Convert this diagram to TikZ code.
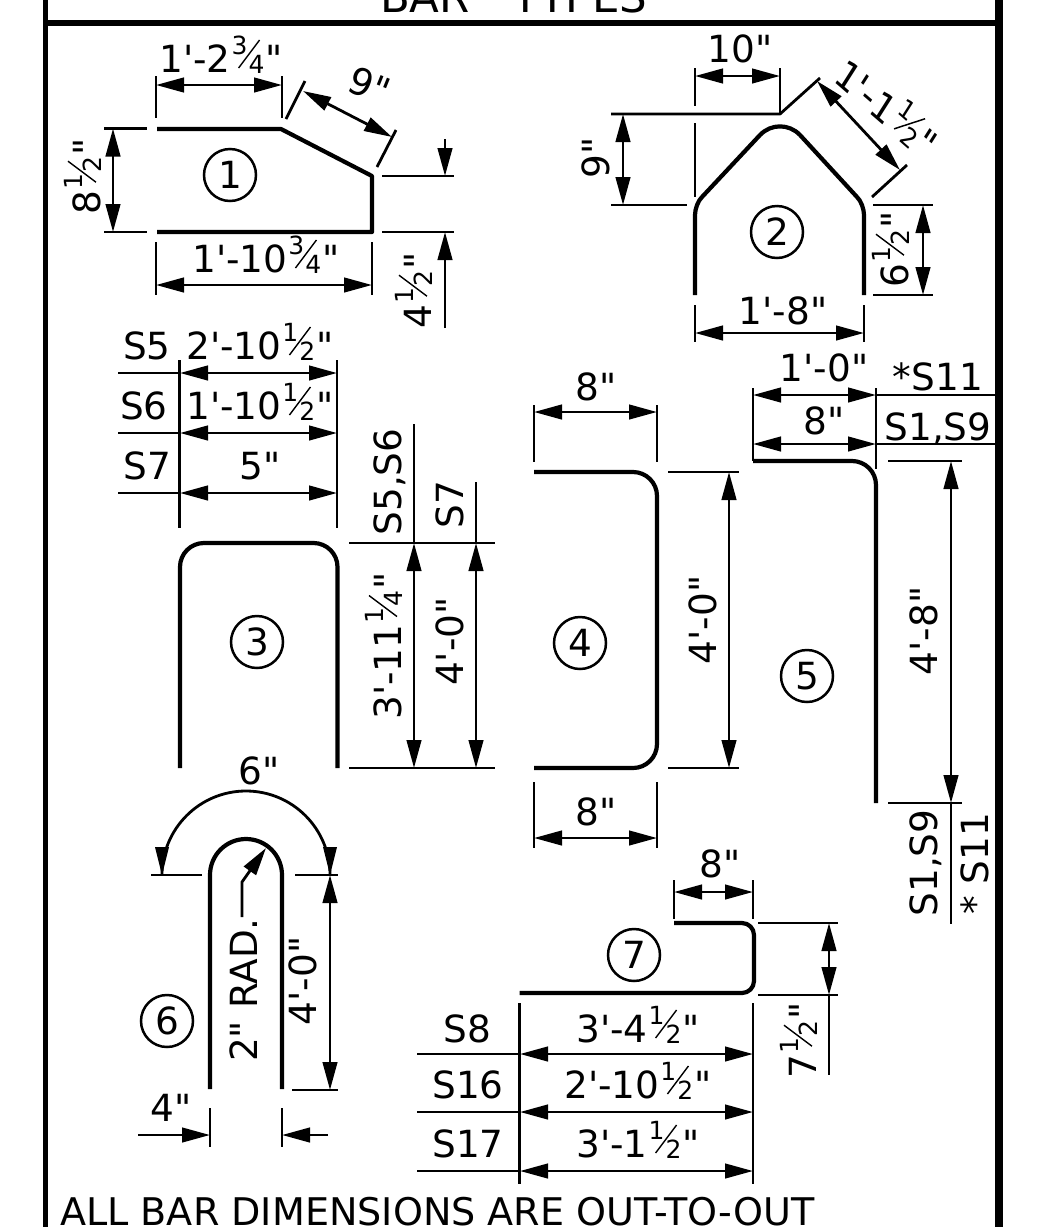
\documentclass[tikz,border=0pt]{standalone}
\usepackage{fontspec}
\usetikzlibrary{arrows.meta}
\newfontfamily\dvf{DejaVu Sans}
\tikzset{
  x=1pt,y=-1pt,
  border/.style={line cap=butt},
  barline/.style={line width=4.2pt,line join=round},
  thinl/.style={line width=2.8pt},
  tipa/.style={thinl,{Triangle[length=28pt,width=14.5pt]}-{Triangle[length=28pt,width=14.5pt]}},
  tipe/.style={thinl,-{Triangle[length=28pt,width=14.5pt]}},
  lab/.style={font=\dvf\fontsize{37.4}{40}\selectfont,inner sep=0pt,anchor=base,text=black},
  ring/.style={font=\dvf\fontsize{37.4}{40}\selectfont,draw,circle,line width=2.5pt,minimum size=52pt,inner sep=0pt},
}
\newcommand\TT[5]{\node[lab,rotate=#4] (#1) at (#2,#3) {#5};}
\newcommand\fr[2]{\hbox to 35pt{%
  \rlap{\kern1pt\raisebox{18pt}{\fontsize{25}{25}\selectfont #1}}%
  \rlap{\kern18pt\raisebox{-1.7pt}{\fontsize{25}{25}\selectfont #2}}%
  \rlap{\kern3pt\tikz[baseline=0pt,x=1pt,y=1pt]{\useasboundingbox (0,0) rectangle (0,0);\draw[line width=1.4pt] (5,4) -- (26,32);}}%
  \hfil}}
\begin{document}
\begin{tikzpicture}
\useasboundingbox (0,0) rectangle (1045,1227);
% frame
\draw[border,line width=5pt] (45.5,0) -- (45.5,1227);
\draw[border,line width=8pt] (999,0) -- (999,1227);
\draw[border,line width=6pt] (43,23) -- (1003,23);
\node[lab,font=\dvf\fontsize{43.5}{46}\selectfont] (title1) at (425,12) {BAR};
\node[lab,font=\dvf\fontsize{43.5}{46}\selectfont] (title2) at (580,12) {TYPES};
\node[lab,font=\dvf\fontsize{38.1}{42}\selectfont] (note) at (437.5,1225) {ALL BAR DIMENSIONS ARE OUT-TO-OUT};
% ---- bar 1
\draw[barline] (157,129) -- (281,129) -- (372,176) -- (372,232) -- (157,232);
\node[ring] (r1) at (230,175) {1};
\draw[thinl] (156,76) -- (156,118) (282,76) -- (282,118);
\draw[tipa] (156,85) -- (282,85);
\TT{a1}{221}{72}{0}{1'-2\fr{3}{4}"}
\draw[thinl] (286,119) -- (305,81) (377,167) -- (396,130);
\draw[tipa] (303,91) -- (392,137);
\node[lab,anchor=center,rotate=-22] (a2) at (370,86) {9"};
\draw[thinl] (104,128.5) -- (147,128.5) (104,232) -- (147,232);
\draw[tipa] (113,128.5) -- (113,232);
\TT{a3}{100}{176}{90}{8\fr{1}{2}"}
\draw[thinl] (382,176) -- (454,176) (382,232) -- (454,232);
\draw[tipe] (445,139) -- (445,176);
\draw[tipe] (445,328) -- (445,232);
\TT{a4}{431}{290}{90}{4\fr{1}{2}"}
\draw[thinl] (156,242) -- (156,295) (372,242) -- (372,295);
\draw[tipa] (156,285) -- (372,285);
\TT{a5}{266}{272}{0}{1'-10\fr{3}{4}"}
% ---- bar 2
\draw[barline] (695,295) -- (695,215) .. controls (695,209) and (698,200.7) .. (702,197)
  -- (760,135) .. controls (771,123.5) and (789,123.5) .. (800,135)
  -- (857,197) .. controls (861,200.7) and (864,209) .. (864,215) -- (864,295);
\node[ring] (r2) at (777,232) {2};
\draw[thinl,line join=round] (611,114) -- (780,114) -- (820,78);
\draw[thinl] (780,68) -- (780,114) (695,68) -- (695,106) (695,123) -- (695,197);
\draw[tipa] (695,76) -- (780,76);
\TT{b1}{740}{62}{0}{10"}
\draw[thinl] (611,205) -- (687,205);
\draw[tipa] (623,114) -- (623,205);
\TT{b2}{609}{158}{90}{9"}
\draw[thinl] (872,197) -- (907,165);
\draw[tipa] (817,81) -- (900,170);
\node[lab,anchor=center,rotate=-41,xslant=-.15,transform shape] (b3) at (888,106) {1'-1\fr{1}{2}"};
\draw[thinl] (695,305) -- (695,342) (864,305) -- (864,342);
\draw[tipa] (695,333) -- (864,333);
\TT{b4}{783}{324}{0}{1'-8"}
\draw[thinl] (873,205) -- (933,205) (873,295) -- (933,295);
\draw[tipa] (923,205) -- (923,295);
\TT{b5}{908}{249}{90}{6\fr{1}{2}"}
% ---- bar 3
\draw[barline,rounded corners=24pt] (180,768) -- (180,543) -- (337.5,543) -- (337.5,768);
\node[ring] (r3) at (257,642) {3};
\draw[thinl] (179.5,360) -- (179.5,528) (337,360) -- (337,528);
\draw[thinl] (118,373) -- (180,373) (118,433) -- (180,433) (118,493) -- (180,493);
\draw[tipa] (180,373) -- (337,373);
\draw[tipa] (180,433) -- (337,433);
\draw[tipa] (180,493) -- (337,493);
\TT{c1}{147}{359}{0}{S5}
\TT{c2}{260}{359}{0}{2'-10\fr{1}{2}"}
\TT{c3}{144}{419}{0}{S6}
\TT{c4}{260}{419}{0}{1'-10\fr{1}{2}"}
\TT{c5}{147.5}{479}{0}{S7}
\TT{c6}{260}{479}{0}{5"}
\draw[thinl] (349,543) -- (495,543) (349,768) -- (495,768);
\draw[thinl] (414,424) -- (414,543) (476,482) -- (476,543);
\draw[tipa] (414,543) -- (414,768);
\draw[tipa] (476,543) -- (476,768);
\TT{c7}{401}{482}{90}{S5,S6}
\TT{c8}{463}{504.5}{90}{S7}
\TT{c9}{401}{646}{90}{3'-11\fr{1}{4}"}
\TT{c10}{463}{641.5}{90}{4'-0"}
% ---- bar 4
\draw[barline,rounded corners=24pt] (534,472) -- (657,472) -- (657,768) -- (534,768);
\node[ring] (r4) at (580,643) {4};
\draw[thinl] (534,405) -- (534,462) (657,405) -- (657,462);
\draw[tipa] (534,412) -- (657,412);
\TT{d1}{596}{400}{0}{8"}
\draw[thinl] (534,782) -- (534,848) (657,782) -- (657,848);
\draw[tipa] (534,838) -- (657,838);
\TT{d2}{596}{825}{0}{8"}
\draw[thinl] (668,472) -- (739,472) (668,768) -- (739,768);
\draw[tipa] (729,472) -- (729,768);
\TT{d3}{716}{620}{90}{4'-0"}
% ---- bar 5
\draw[barline,rounded corners=24pt] (753,461) -- (876,461) -- (876,803);
\node[ring] (r5) at (807,676) {5};
\draw[thinl] (753,388) -- (753,461) (876,388) -- (876,469);
\draw[thinl] (876,395) -- (997,395) (876,444) -- (997,444);
\draw[tipa] (753,395) -- (876,395);
\draw[tipa] (753,444) -- (876,444);
\TT{e1}{824}{381}{0}{1'-0"}
\TT{e2}{938}{390.5}{0}{*S11}
\TT{e3}{824}{434}{0}{8"}
\TT{e4}{938}{440}{0}{S1,S9}
\draw[thinl] (888,461) -- (962,461) (888,803) -- (962,803);
\draw[tipa] (951,461) -- (951,803);
\draw[thinl] (951,803) -- (951,924);
\TT{e5}{937}{631}{90}{4'-8"}
\TT{e6}{937}{863}{90}{S1,S9}
\TT{e7}{988}{864}{90}{* S11}
% ---- bar 6
\draw[barline] (210,1089) -- (210,875) arc[start angle=180,end angle=360,radius=36] -- (282,1089);
\node[ring] (r6) at (167,1021) {6};
\draw[thinl] (151,875) -- (202,875) (295,875) -- (338,875) (292,1090) -- (338,1090);
\draw[tipa] (330,875) -- (330,1090);
\draw[thinl] (162,860) -- (162,875) arc[start angle=180,end angle=360,radius=84];
\fill (162,875) -- (155,847) -- (169,847) -- cycle;
\fill (330,875) -- (323,847) -- (337,847) -- cycle;
\TT{f1}{259}{784}{0}{6"}
\coordinate (ld1) at (242,917);
\coordinate (ld2) at (242,882);
\coordinate (ld3) at (266,848);
\draw[tipe] (ld1) -- (ld2) -- (ld3);
\TT{f2}{257}{990}{90}{2" RAD.}
\TT{f3}{316}{981}{90}{4'-0"}
\draw[thinl] (210,1108) -- (210,1147) (282,1108) -- (282,1147);
\draw[tipe] (138,1135) -- (210,1135);
\draw[tipe] (328,1135) -- (282,1135);
\TT{f4}{171}{1121}{0}{4"}
% ---- bar 7
\draw[barline,rounded corners=12pt] (674,923) -- (754,923) -- (754,993) -- (519.5,993);
\node[ring] (r7) at (634,955) {7};
\draw[thinl] (674,880) -- (674,919) (753,880) -- (753,919);
\draw[tipa] (674,892) -- (753,892);
\TT{g1}{720}{877}{0}{8"}
\draw[thinl] (758,923) -- (838,923) (758,995) -- (838,995);
\draw[tipa] (829,923) -- (829,995);
\draw[thinl] (829,995) -- (829,1075);
\TT{g2}{816}{1040}{90}{7\fr{1}{2}"}
\draw[thinl] (519.5,1003) -- (519.5,1184) (753,1003) -- (753,1184);
\draw[thinl] (417,1054) -- (520,1054) (417,1112) -- (520,1112) (417,1171) -- (520,1171);
\draw[tipa] (520,1054) -- (753,1054);
\draw[tipa] (520,1112) -- (753,1112);
\draw[tipa] (520,1171) -- (753,1171);
\TT{g3}{467.5}{1042}{0}{S8}
\TT{g4}{468}{1098}{0}{S16}
\TT{g5}{468}{1157}{0}{S17}
\TT{g6}{638}{1042}{0}{3'-4\fr{1}{2}"}
\TT{g7}{638}{1098}{0}{2'-10\fr{1}{2}"}
\TT{g8}{638}{1157}{0}{3'-1\fr{1}{2}"}
\end{tikzpicture}
\end{document}
